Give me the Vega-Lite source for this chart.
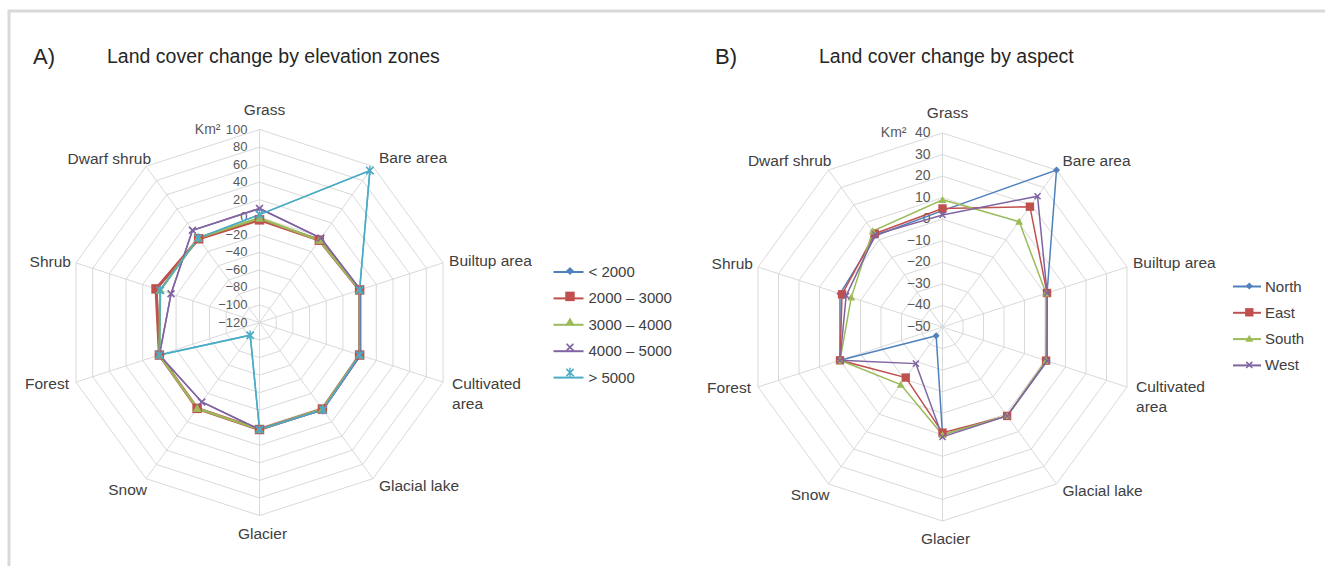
{
  "$schema": "https://vega.github.io/schema/vega-lite/v6.json",
  "width": 1325,
  "height": 566,
  "autosize": {"type": "fit", "contains": "padding"},
  "padding": {"left": 9, "top": 11, "right": -3, "bottom": -3},
  "background": "#ffffff",
  "config": {
    "view": {"stroke": "#d9d9d9", "strokeWidth": 3},
    "font": "Liberation Sans"
  },
  "datasets": {
    "cats": [
      {"i": 0, "cat": "Grass", "label": "Grass"},
      {"i": 1, "cat": "Bare area", "label": "Bare area"},
      {"i": 2, "cat": "Builtup area", "label": "Builtup area"},
      {"i": 3, "cat": "Cultivated area", "label": "Cultivated\narea"},
      {"i": 4, "cat": "Glacial lake", "label": "Glacial lake"},
      {"i": 5, "cat": "Glacier", "label": "Glacier"},
      {"i": 6, "cat": "Snow", "label": "Snow"},
      {"i": 7, "cat": "Forest", "label": "Forest"},
      {"i": 8, "cat": "Shrub", "label": "Shrub"},
      {"i": 9, "cat": "Dwarf shrub", "label": "Dwarf shrub"}
    ],
    "ringsA": [
      {"t": -120, "k": [0,1,2,3,4,5,6,7,8,9]},
      {"t": -100, "k": [0,1,2,3,4,5,6,7,8,9]},
      {"t": -80, "k": [0,1,2,3,4,5,6,7,8,9]},
      {"t": -60, "k": [0,1,2,3,4,5,6,7,8,9]},
      {"t": -40, "k": [0,1,2,3,4,5,6,7,8,9]},
      {"t": -20, "k": [0,1,2,3,4,5,6,7,8,9]},
      {"t": 0, "k": [0,1,2,3,4,5,6,7,8,9]},
      {"t": 20, "k": [0,1,2,3,4,5,6,7,8,9]},
      {"t": 40, "k": [0,1,2,3,4,5,6,7,8,9]},
      {"t": 60, "k": [0,1,2,3,4,5,6,7,8,9]},
      {"t": 80, "k": [0,1,2,3,4,5,6,7,8,9]},
      {"t": 100, "k": [0,1,2,3,4,5,6,7,8,9]}
    ],
    "ringsB": [
      {"t": -50, "k": [0,1,2,3,4,5,6,7,8,9]},
      {"t": -40, "k": [0,1,2,3,4,5,6,7,8,9]},
      {"t": -30, "k": [0,1,2,3,4,5,6,7,8,9]},
      {"t": -20, "k": [0,1,2,3,4,5,6,7,8,9]},
      {"t": -10, "k": [0,1,2,3,4,5,6,7,8,9]},
      {"t": 0, "k": [0,1,2,3,4,5,6,7,8,9]},
      {"t": 10, "k": [0,1,2,3,4,5,6,7,8,9]},
      {"t": 20, "k": [0,1,2,3,4,5,6,7,8,9]},
      {"t": 30, "k": [0,1,2,3,4,5,6,7,8,9]},
      {"t": 40, "k": [0,1,2,3,4,5,6,7,8,9]}
    ],
    "zones": [
      {"zone": "< 2000", "cat": "Grass", "v": -2},
      {"zone": "< 2000", "cat": "Bare area", "v": -3},
      {"zone": "< 2000", "cat": "Builtup area", "v": 0},
      {"zone": "< 2000", "cat": "Cultivated area", "v": 0},
      {"zone": "< 2000", "cat": "Glacial lake", "v": 2},
      {"zone": "< 2000", "cat": "Glacier", "v": 2},
      {"zone": "< 2000", "cat": "Snow", "v": 1},
      {"zone": "< 2000", "cat": "Forest", "v": 0},
      {"zone": "< 2000", "cat": "Shrub", "v": 3},
      {"zone": "< 2000", "cat": "Dwarf shrub", "v": -2},
      {"zone": "2000 – 3000", "cat": "Grass", "v": -3},
      {"zone": "2000 – 3000", "cat": "Bare area", "v": -4},
      {"zone": "2000 – 3000", "cat": "Builtup area", "v": 0},
      {"zone": "2000 – 3000", "cat": "Cultivated area", "v": 0},
      {"zone": "2000 – 3000", "cat": "Glacial lake", "v": 2},
      {"zone": "2000 – 3000", "cat": "Glacier", "v": 2},
      {"zone": "2000 – 3000", "cat": "Snow", "v": 1},
      {"zone": "2000 – 3000", "cat": "Forest", "v": 0},
      {"zone": "2000 – 3000", "cat": "Shrub", "v": 4},
      {"zone": "2000 – 3000", "cat": "Dwarf shrub", "v": -2},
      {"zone": "3000 – 4000", "cat": "Grass", "v": -1},
      {"zone": "3000 – 4000", "cat": "Bare area", "v": -4},
      {"zone": "3000 – 4000", "cat": "Builtup area", "v": 0},
      {"zone": "3000 – 4000", "cat": "Cultivated area", "v": 0},
      {"zone": "3000 – 4000", "cat": "Glacial lake", "v": 2},
      {"zone": "3000 – 4000", "cat": "Glacier", "v": 2},
      {"zone": "3000 – 4000", "cat": "Snow", "v": 1},
      {"zone": "3000 – 4000", "cat": "Forest", "v": 0},
      {"zone": "3000 – 4000", "cat": "Shrub", "v": -1},
      {"zone": "3000 – 4000", "cat": "Dwarf shrub", "v": -1},
      {"zone": "4000 – 5000", "cat": "Grass", "v": 10},
      {"zone": "4000 – 5000", "cat": "Bare area", "v": -1},
      {"zone": "4000 – 5000", "cat": "Builtup area", "v": 1},
      {"zone": "4000 – 5000", "cat": "Cultivated area", "v": 1},
      {"zone": "4000 – 5000", "cat": "Glacial lake", "v": 3},
      {"zone": "4000 – 5000", "cat": "Glacier", "v": 2},
      {"zone": "4000 – 5000", "cat": "Snow", "v": -8},
      {"zone": "4000 – 5000", "cat": "Forest", "v": 0},
      {"zone": "4000 – 5000", "cat": "Shrub", "v": -14},
      {"zone": "4000 – 5000", "cat": "Dwarf shrub", "v": 10},
      {"zone": "> 5000", "cat": "Grass", "v": 3},
      {"zone": "> 5000", "cat": "Bare area", "v": 94},
      {"zone": "> 5000", "cat": "Builtup area", "v": 0},
      {"zone": "> 5000", "cat": "Cultivated area", "v": 0},
      {"zone": "> 5000", "cat": "Glacial lake", "v": 3},
      {"zone": "> 5000", "cat": "Glacier", "v": 2},
      {"zone": "> 5000", "cat": "Snow", "v": -102},
      {"zone": "> 5000", "cat": "Forest", "v": 0},
      {"zone": "> 5000", "cat": "Shrub", "v": -1},
      {"zone": "> 5000", "cat": "Dwarf shrub", "v": -1}
    ],
    "aspects": [
      {"aspect": "North", "cat": "Grass", "v": 4},
      {"aspect": "North", "cat": "Bare area", "v": 40},
      {"aspect": "North", "cat": "Builtup area", "v": 1},
      {"aspect": "North", "cat": "Cultivated area", "v": 1},
      {"aspect": "North", "cat": "Glacial lake", "v": 1},
      {"aspect": "North", "cat": "Glacier", "v": 0},
      {"aspect": "North", "cat": "Snow", "v": -45},
      {"aspect": "North", "cat": "Forest", "v": 0},
      {"aspect": "North", "cat": "Shrub", "v": 0},
      {"aspect": "North", "cat": "Dwarf shrub", "v": 2.5},
      {"aspect": "East", "cat": "Grass", "v": 5},
      {"aspect": "East", "cat": "Bare area", "v": 19},
      {"aspect": "East", "cat": "Builtup area", "v": 1},
      {"aspect": "East", "cat": "Cultivated area", "v": 0.5},
      {"aspect": "East", "cat": "Glacial lake", "v": 1},
      {"aspect": "East", "cat": "Glacier", "v": -1},
      {"aspect": "East", "cat": "Snow", "v": -21},
      {"aspect": "East", "cat": "Forest", "v": 0},
      {"aspect": "East", "cat": "Shrub", "v": -1},
      {"aspect": "East", "cat": "Dwarf shrub", "v": 3.5},
      {"aspect": "South", "cat": "Grass", "v": 9},
      {"aspect": "South", "cat": "Bare area", "v": 10.5},
      {"aspect": "South", "cat": "Builtup area", "v": 0.5},
      {"aspect": "South", "cat": "Cultivated area", "v": 0.5},
      {"aspect": "South", "cat": "Glacial lake", "v": 1},
      {"aspect": "South", "cat": "Glacier", "v": 0},
      {"aspect": "South", "cat": "Snow", "v": -17},
      {"aspect": "South", "cat": "Forest", "v": 0},
      {"aspect": "South", "cat": "Shrub", "v": -5.5},
      {"aspect": "South", "cat": "Dwarf shrub", "v": 5},
      {"aspect": "West", "cat": "Grass", "v": 2},
      {"aspect": "West", "cat": "Bare area", "v": 25},
      {"aspect": "West", "cat": "Builtup area", "v": 1},
      {"aspect": "West", "cat": "Cultivated area", "v": 1},
      {"aspect": "West", "cat": "Glacial lake", "v": 1},
      {"aspect": "West", "cat": "Glacier", "v": 1},
      {"aspect": "West", "cat": "Snow", "v": -29},
      {"aspect": "West", "cat": "Forest", "v": 0},
      {"aspect": "West", "cat": "Shrub", "v": -3},
      {"aspect": "West", "cat": "Dwarf shrub", "v": 3}
    ]
  },
  "layer": [
    {
      "layer": [
        {
          "data": {"name": "ringsA"},
          "transform": [
            {"filter": "datum.t > -120"},
            {"flatten": ["k"]},
            {"calculate": "(datum.t + 120) / 220 * sin(datum.k * PI / 5)", "as": "px"},
            {"calculate": "(datum.t + 120) / 220 * cos(datum.k * PI / 5)", "as": "py"}
          ],
          "mark": {"type": "line", "interpolate": "linear-closed", "stroke": "#d9d9d9", "strokeWidth": 1},
          "encoding": {
            "x": {"field": "px", "type": "quantitative", "scale": {"domain": [-1.29793, 5.53627], "nice": false, "zero": false}, "axis": null},
            "y": {"field": "py", "type": "quantitative", "scale": {"domain": [-1.2772, 1.61399], "nice": false, "zero": false}, "axis": null},
            "detail": {"field": "t", "type": "nominal"},
            "order": {"field": "k", "type": "quantitative"}
          }
        },
        {
          "data": {"name": "cats"},
          "transform": [
            {"calculate": "sin(datum.i * PI / 5)", "as": "sx"},
            {"calculate": "cos(datum.i * PI / 5)", "as": "sy"}
          ],
          "mark": {"type": "rule", "stroke": "#d9d9d9", "strokeWidth": 1},
          "encoding": {
            "x": {"field": "sx", "type": "quantitative", "scale": {"domain": [-1.29793, 5.53627], "nice": false, "zero": false}, "axis": null},
            "y": {"field": "sy", "type": "quantitative", "scale": {"domain": [-1.2772, 1.61399], "nice": false, "zero": false}, "axis": null},
            "x2": {"datum": 0},
            "y2": {"datum": 0}
          }
        },
        {
          "data": {"name": "ringsA"},
          "transform": [{"calculate": "(datum.t + 120) / 220", "as": "r"}],
          "mark": {"type": "text", "align": "right", "baseline": "middle", "dx": -12, "fontSize": 13, "fill": "#595959"},
          "encoding": {
            "x": {"datum": 0, "type": "quantitative", "scale": {"domain": [-1.29793, 5.53627], "nice": false, "zero": false}, "axis": null},
            "y": {"field": "r", "type": "quantitative", "scale": {"domain": [-1.2772, 1.61399], "nice": false, "zero": false}, "axis": null},
            "text": {"field": "t", "type": "quantitative", "format": "d"}
          }
        },
        {
          "data": {"name": "ringsA"},
          "transform": [{"filter": "datum.t == 100"}],
          "mark": {"type": "text", "text": "Km²", "align": "right", "baseline": "middle", "dx": -39, "fontSize": 14, "fill": "#595959"},
          "encoding": {
            "x": {"datum": 0, "type": "quantitative", "scale": {"domain": [-1.29793, 5.53627], "nice": false, "zero": false}, "axis": null},
            "y": {"datum": 1, "type": "quantitative", "scale": {"domain": [-1.2772, 1.61399], "nice": false, "zero": false}, "axis": null}
          }
        },
        {
          "data": {"name": "cats"},
          "transform": [
            {"calculate": "sin(datum.i * PI / 5)", "as": "sx"},
            {"calculate": "cos(datum.i * PI / 5)", "as": "sy"}
          ],
          "mark": {
            "type": "text", "fontSize": 15.5, "fill": "#404040", "lineBreak": "\n", "lineHeight": 20, "baseline": "middle",
            "align": {"expr": "datum.i == 0 || datum.i == 5 ? 'center' : (datum.i < 5 ? 'left' : 'right')"},
            "dx": {"expr": "[5, 6, 6, 9, 6, 3, 1, -7, -5, 5][datum.i]"},
            "dy": {"expr": "[-20, -8, -2, 2, 7, 18, 11, 2, -1, -7][datum.i]"}
          },
          "encoding": {
            "x": {"field": "sx", "type": "quantitative", "scale": {"domain": [-1.29793, 5.53627], "nice": false, "zero": false}, "axis": null},
            "y": {"field": "sy", "type": "quantitative", "scale": {"domain": [-1.2772, 1.61399], "nice": false, "zero": false}, "axis": null},
            "text": {"field": "label", "type": "nominal"}
          }
        },
        {
          "data": {"values": [{}]},
          "mark": {"type": "text", "text": "A)", "align": "left", "baseline": "middle", "fontSize": 22, "fill": "#262626"},
          "encoding": {
            "x": {"datum": -1.17358, "type": "quantitative", "scale": {"domain": [-1.29793, 5.53627], "nice": false, "zero": false}, "axis": null},
            "y": {"datum": 1.37565, "type": "quantitative", "scale": {"domain": [-1.2772, 1.61399], "nice": false, "zero": false}, "axis": null}
          }
        },
        {
          "data": {"values": [{}]},
          "mark": {"type": "text", "text": "Land cover change by elevation zones", "align": "left", "baseline": "middle", "fontSize": 19.5, "fill": "#262626"},
          "encoding": {
            "x": {"datum": -0.79016, "type": "quantitative", "scale": {"domain": [-1.29793, 5.53627], "nice": false, "zero": false}, "axis": null},
            "y": {"datum": 1.37565, "type": "quantitative", "scale": {"domain": [-1.2772, 1.61399], "nice": false, "zero": false}, "axis": null}
          }
        },
        {
          "data": {"name": "zones"},
          "transform": [
            {"lookup": "cat", "from": {"data": {"name": "cats"}, "key": "cat", "fields": ["i"]}},
            {"calculate": "(datum.v + 120) / 220 * sin(datum.i * PI / 5)", "as": "px"},
            {"calculate": "(datum.v + 120) / 220 * cos(datum.i * PI / 5)", "as": "py"}
          ],
          "layer": [
            {
              "mark": {"type": "line", "interpolate": "linear-closed", "strokeWidth": 1.5},
              "encoding": {
                "x": {"field": "px", "type": "quantitative", "scale": {"domain": [-1.29793, 5.53627], "nice": false, "zero": false}, "axis": null},
                "y": {"field": "py", "type": "quantitative", "scale": {"domain": [-1.2772, 1.61399], "nice": false, "zero": false}, "axis": null},
                "order": {"field": "i", "type": "quantitative"},
                "stroke": {
                  "field": "zone", "type": "nominal", "sort": null,
                  "scale": {"range": ["#4F81BD", "#C0504D", "#9BBB59", "#8064A2", "#4BACC6"]},
                  "legend": {"orient": "none", "legendX": 551, "legendY": 252.5, "title": null, "symbolType": "M-2,0H2", "symbolSize": 225, "symbolStrokeWidth": 2, "labelFontSize": 15, "labelColor": "#404040", "labelOffset": 11.5, "rowPadding": 9.4, "padding": 0, "labelLimit": 300}
                }
              }
            },
            {
              "transform": [{"filter": "datum.zone == '2000 – 3000'"}],
              "mark": {"type": "line", "interpolate": "linear-closed", "strokeWidth": 3, "stroke": "#C0504D"},
              "encoding": {
                "x": {"field": "px", "type": "quantitative", "scale": {"domain": [-1.29793, 5.53627], "nice": false, "zero": false}, "axis": null},
                "y": {"field": "py", "type": "quantitative", "scale": {"domain": [-1.2772, 1.61399], "nice": false, "zero": false}, "axis": null},
                "order": {"field": "i", "type": "quantitative"}
              }
            },
            {
              "transform": [{"filter": "datum.zone == '3000 – 4000'"}],
              "mark": {"type": "line", "interpolate": "linear-closed", "strokeWidth": 2.25, "stroke": "#9BBB59"},
              "encoding": {
                "x": {"field": "px", "type": "quantitative", "scale": {"domain": [-1.29793, 5.53627], "nice": false, "zero": false}, "axis": null},
                "y": {"field": "py", "type": "quantitative", "scale": {"domain": [-1.2772, 1.61399], "nice": false, "zero": false}, "axis": null},
                "order": {"field": "i", "type": "quantitative"}
              }
            },
            {
              "transform": [{"filter": "datum.zone == '4000 – 5000'"}],
              "mark": {"type": "line", "interpolate": "linear-closed", "strokeWidth": 1.5, "stroke": "#8064A2"},
              "encoding": {
                "x": {"field": "px", "type": "quantitative", "scale": {"domain": [-1.29793, 5.53627], "nice": false, "zero": false}, "axis": null},
                "y": {"field": "py", "type": "quantitative", "scale": {"domain": [-1.2772, 1.61399], "nice": false, "zero": false}, "axis": null},
                "order": {"field": "i", "type": "quantitative"}
              }
            },
            {
              "transform": [{"filter": "datum.zone == '> 5000'"}],
              "mark": {"type": "line", "interpolate": "linear-closed", "strokeWidth": 1.5, "stroke": "#4BACC6"},
              "encoding": {
                "x": {"field": "px", "type": "quantitative", "scale": {"domain": [-1.29793, 5.53627], "nice": false, "zero": false}, "axis": null},
                "y": {"field": "py", "type": "quantitative", "scale": {"domain": [-1.2772, 1.61399], "nice": false, "zero": false}, "axis": null},
                "order": {"field": "i", "type": "quantitative"}
              }
            },
            {
              "transform": [{"filter": "isValid(datum.v)"}],
              "mark": {"type": "point", "filled": true, "opacity": 1, "size": 90, "strokeWidth": 0},
              "encoding": {
                "x": {"field": "px", "type": "quantitative", "scale": {"domain": [-1.29793, 5.53627], "nice": false, "zero": false}, "axis": null},
                "y": {"field": "py", "type": "quantitative", "scale": {"domain": [-1.2772, 1.61399], "nice": false, "zero": false}, "axis": null},
                "fill": {
                  "field": "zone", "type": "nominal", "sort": null,
                  "scale": {"range": ["#4F81BD", "#C0504D", "#9BBB59", "#8064A2", "#4BACC6"]},
                  "legend": {"orient": "none", "legendX": 553.5, "legendY": 252.5, "title": null, "symbolSize": 90, "symbolStrokeWidth": 0, "labelFontSize": 15, "labelExpr": "''", "labelOffset": 4, "rowPadding": 9.4, "padding": 0}
                },
                "shape": {
                  "field": "zone", "type": "nominal", "sort": null,
                  "scale": {"range": [
                    "M0,-0.85L0.85,0L0,0.85L-0.85,0Z",
                    "M-1,-1H1V1H-1Z",
                    "M0,-0.9L0.95,0.75L-0.95,0.75Z",
                    "M-0.85,-0.6L-0.6,-0.85L0,-0.25L0.6,-0.85L0.85,-0.6L0.25,0L0.85,0.6L0.6,0.85L0,0.25L-0.6,0.85L-0.85,0.6L-0.25,0Z",
                    "M-0.9,-0.65L-0.65,-0.9L0,-0.25L0.65,-0.9L0.9,-0.65L0.25,0L0.9,0.65L0.65,0.9L0,0.25L-0.65,0.9L-0.9,0.65L-0.25,0ZM-0.15,-1H0.15V1H-0.15Z"
                  ]},
                  "legend": {"orient": "none", "legendX": 553.5, "legendY": 252.5, "title": null, "symbolSize": 90, "symbolStrokeWidth": 0, "labelFontSize": 15, "labelExpr": "''", "labelOffset": 4, "rowPadding": 9.4, "padding": 0}
                }
              }
            }
          ]
        }
      ]
    },
    {
      "layer": [
        {
          "data": {"name": "ringsB"},
          "transform": [
            {"filter": "datum.t > -50"},
            {"flatten": ["k"]},
            {"calculate": "(datum.t + 50) / 90 * sin(datum.k * PI / 5)", "as": "px"},
            {"calculate": "(datum.t + 50) / 90 * cos(datum.k * PI / 5)", "as": "py"}
          ],
          "mark": {"type": "line", "interpolate": "linear-closed", "stroke": "#d9d9d9", "strokeWidth": 1},
          "encoding": {
            "x": {"field": "px", "type": "quantitative", "scale": {"domain": [-4.81186, 1.98711], "nice": false, "zero": false}, "axis": null},
            "y": {"field": "py", "type": "quantitative", "scale": {"domain": [-1.24742, 1.62887], "nice": false, "zero": false}, "axis": null},
            "detail": {"field": "t", "type": "nominal"},
            "order": {"field": "k", "type": "quantitative"}
          }
        },
        {
          "data": {"name": "cats"},
          "transform": [
            {"calculate": "sin(datum.i * PI / 5)", "as": "sx"},
            {"calculate": "cos(datum.i * PI / 5)", "as": "sy"}
          ],
          "mark": {"type": "rule", "stroke": "#d9d9d9", "strokeWidth": 1},
          "encoding": {
            "x": {"field": "sx", "type": "quantitative", "scale": {"domain": [-4.81186, 1.98711], "nice": false, "zero": false}, "axis": null},
            "y": {"field": "sy", "type": "quantitative", "scale": {"domain": [-1.24742, 1.62887], "nice": false, "zero": false}, "axis": null},
            "x2": {"datum": 0},
            "y2": {"datum": 0}
          }
        },
        {
          "data": {"name": "ringsB"},
          "transform": [{"calculate": "(datum.t + 50) / 90", "as": "r"}],
          "mark": {"type": "text", "align": "right", "baseline": "middle", "dx": -12, "fontSize": 14, "fill": "#595959"},
          "encoding": {
            "x": {"datum": 0, "type": "quantitative", "scale": {"domain": [-4.81186, 1.98711], "nice": false, "zero": false}, "axis": null},
            "y": {"field": "r", "type": "quantitative", "scale": {"domain": [-1.24742, 1.62887], "nice": false, "zero": false}, "axis": null},
            "text": {"field": "t", "type": "quantitative", "format": "d"}
          }
        },
        {
          "data": {"name": "ringsB"},
          "transform": [{"filter": "datum.t == 40"}],
          "mark": {"type": "text", "text": "Km²", "align": "right", "baseline": "middle", "dx": -36, "fontSize": 14, "fill": "#595959"},
          "encoding": {
            "x": {"datum": 0, "type": "quantitative", "scale": {"domain": [-4.81186, 1.98711], "nice": false, "zero": false}, "axis": null},
            "y": {"datum": 1, "type": "quantitative", "scale": {"domain": [-1.24742, 1.62887], "nice": false, "zero": false}, "axis": null}
          }
        },
        {
          "data": {"name": "cats"},
          "transform": [
            {"calculate": "sin(datum.i * PI / 5)", "as": "sx"},
            {"calculate": "cos(datum.i * PI / 5)", "as": "sy"}
          ],
          "mark": {
            "type": "text", "fontSize": 15.5, "fill": "#404040", "lineBreak": "\n", "lineHeight": 20, "baseline": "middle",
            "align": {"expr": "datum.i == 0 || datum.i == 5 ? 'center' : (datum.i < 5 ? 'left' : 'right')"},
            "dx": {"expr": "[5, 6, 6, 9, 6, 3, 1, -7, -5, 3][datum.i]"},
            "dy": {"expr": "[-20, -9, -4, 0, 7, 18, 11, 1, -3, -9][datum.i]"}
          },
          "encoding": {
            "x": {"field": "sx", "type": "quantitative", "scale": {"domain": [-4.81186, 1.98711], "nice": false, "zero": false}, "axis": null},
            "y": {"field": "sy", "type": "quantitative", "scale": {"domain": [-1.24742, 1.62887], "nice": false, "zero": false}, "axis": null},
            "text": {"field": "label", "type": "nominal"}
          }
        },
        {
          "data": {"values": [{}]},
          "mark": {"type": "text", "text": "B)", "align": "left", "baseline": "middle", "fontSize": 22, "fill": "#262626"},
          "encoding": {
            "x": {"datum": -1.17268, "type": "quantitative", "scale": {"domain": [-4.81186, 1.98711], "nice": false, "zero": false}, "axis": null},
            "y": {"datum": 1.39175, "type": "quantitative", "scale": {"domain": [-1.24742, 1.62887], "nice": false, "zero": false}, "axis": null}
          }
        },
        {
          "data": {"values": [{}]},
          "mark": {"type": "text", "text": "Land cover change by aspect", "align": "left", "baseline": "middle", "fontSize": 19.5, "fill": "#262626"},
          "encoding": {
            "x": {"datum": -0.6366, "type": "quantitative", "scale": {"domain": [-4.81186, 1.98711], "nice": false, "zero": false}, "axis": null},
            "y": {"datum": 1.39175, "type": "quantitative", "scale": {"domain": [-1.24742, 1.62887], "nice": false, "zero": false}, "axis": null}
          }
        },
        {
          "data": {"name": "aspects"},
          "transform": [
            {"lookup": "cat", "from": {"data": {"name": "cats"}, "key": "cat", "fields": ["i"]}},
            {"calculate": "(datum.v + 50) / 90 * sin(datum.i * PI / 5)", "as": "px"},
            {"calculate": "(datum.v + 50) / 90 * cos(datum.i * PI / 5)", "as": "py"}
          ],
          "layer": [
            {
              "mark": {"type": "line", "interpolate": "linear-closed", "strokeWidth": 1.5},
              "encoding": {
                "x": {"field": "px", "type": "quantitative", "scale": {"domain": [-4.81186, 1.98711], "nice": false, "zero": false}, "axis": null},
                "y": {"field": "py", "type": "quantitative", "scale": {"domain": [-1.24742, 1.62887], "nice": false, "zero": false}, "axis": null},
                "order": {"field": "i", "type": "quantitative"},
                "stroke": {
                  "field": "aspect", "type": "nominal", "sort": null,
                  "scale": {"range": ["#4F81BD", "#C0504D", "#9BBB59", "#8064A2"]},
                  "legend": {"orient": "none", "legendX": 1230, "legendY": 267.5, "title": null, "symbolType": "M-2,0H2", "symbolSize": 196, "symbolStrokeWidth": 2, "labelFontSize": 15, "labelColor": "#404040", "labelOffset": 10, "rowPadding": 10.3, "padding": 0, "labelLimit": 300}
                }
              }
            },
            {
              "transform": [{"filter": "isValid(datum.v)"}],
              "mark": {"type": "point", "filled": true, "opacity": 1, "size": 70, "strokeWidth": 0},
              "encoding": {
                "x": {"field": "px", "type": "quantitative", "scale": {"domain": [-4.81186, 1.98711], "nice": false, "zero": false}, "axis": null},
                "y": {"field": "py", "type": "quantitative", "scale": {"domain": [-1.24742, 1.62887], "nice": false, "zero": false}, "axis": null},
                "fill": {
                  "field": "aspect", "type": "nominal", "sort": null,
                  "scale": {"range": ["#4F81BD", "#C0504D", "#9BBB59", "#8064A2"]},
                  "legend": {"orient": "none", "legendX": 1232.8, "legendY": 267.5, "title": null, "symbolSize": 70, "symbolStrokeWidth": 0, "labelFontSize": 15, "labelExpr": "''", "labelOffset": 3, "rowPadding": 10.3, "padding": 0}
                },
                "shape": {
                  "field": "aspect", "type": "nominal", "sort": null,
                  "scale": {"range": [
                    "M0,-0.85L0.85,0L0,0.85L-0.85,0Z",
                    "M-1,-1H1V1H-1Z",
                    "M0,-0.9L0.95,0.75L-0.95,0.75Z",
                    "M-0.85,-0.6L-0.6,-0.85L0,-0.25L0.6,-0.85L0.85,-0.6L0.25,0L0.85,0.6L0.6,0.85L0,0.25L-0.6,0.85L-0.85,0.6L-0.25,0Z"
                  ]},
                  "legend": {"orient": "none", "legendX": 1232.8, "legendY": 267.5, "title": null, "symbolSize": 70, "symbolStrokeWidth": 0, "labelFontSize": 15, "labelExpr": "''", "labelOffset": 3, "rowPadding": 10.3, "padding": 0}
                }
              }
            }
          ]
        }
      ]
    }
  ],
  "resolve": {"scale": {"x": "independent", "y": "independent", "stroke": "independent", "fill": "independent", "shape": "independent"}}
}
